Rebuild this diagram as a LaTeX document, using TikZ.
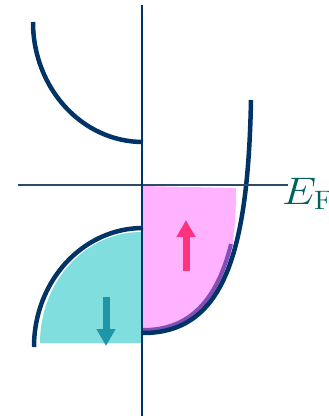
\documentclass[tikz,border=0pt]{standalone}
\usetikzlibrary{arrows.meta}
\definecolor{bandnavy}{RGB}{0,51,102}
\definecolor{fermiline}{RGB}{45,75,105}
\definecolor{upfillc}{RGB}{255,178,255}
\definecolor{downfillc}{RGB}{128,222,222}
\definecolor{upedge}{RGB}{130,80,180}
\definecolor{uparrowc}{RGB}{255,50,125}
\definecolor{downarrowc}{RGB}{30,150,165}
\definecolor{labelc}{RGB}{0,100,90}
\tikzset{
  band/.style={draw=bandnavy, line width=4.5pt},
  spinarrow/.style={line width=7pt, -{Triangle[width=18pt,length=17pt]}}
}

\begin{document}
\begin{tikzpicture}[x=1pt,y=-1pt]
\useasboundingbox (0,0) rectangle (329,418);
% occupied states
\fill[upfillc] (143,186) -- (236,188) .. controls (236,274) and (220,330) .. (143,330) -- cycle;
\fill[downfillc] (40,343) .. controls (40,282) and (85,232) .. (141,232) -- (141,343) -- cycle;
\draw[upedge, line width=4pt] (143,330) .. controls (190,330) and (217,300) .. (231,244);
% bands
\draw[band] (33,22) .. controls (33,88) and (82,142) .. (143,142);
\draw[band] (34,347) .. controls (34,281) and (83,228) .. (143,228);
\draw[band] (143,333) .. controls (225,333) and (248,250) .. (251,100);
% axes
\draw[fermiline, line width=1.5pt] (18,185) -- (288,185);
\draw[bandnavy, line width=2pt] (141.5,5) -- (141.5,416);
\node[labelc, anchor=base west, inner sep=0pt, font=\huge] (ef) at (282,204)
  {\scalebox{2.1}[1.85]{$E_{\mathrm{F}}$}};
% spins
\coordinate (uptail) at (186,271);
\coordinate (uptip) at (186,220);
\coordinate (downtail) at (106,297);
\coordinate (downtip) at (106,346);
\draw[spinarrow, uparrowc] (uptail) -- (uptip);
\draw[spinarrow, downarrowc] (downtail) -- (downtip);
\end{tikzpicture}
\end{document}
